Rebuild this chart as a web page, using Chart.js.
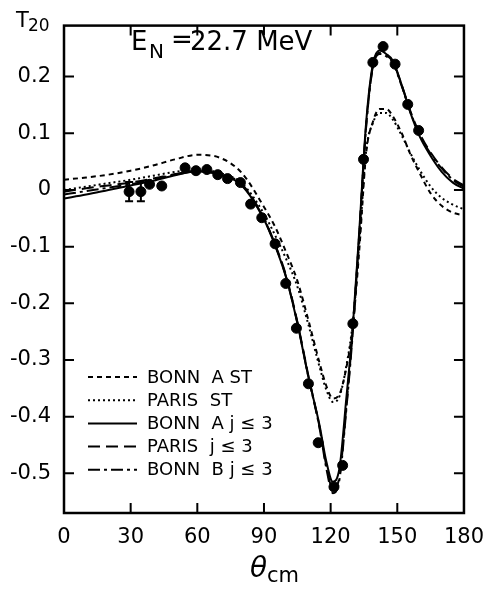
<!DOCTYPE html>
<html lang="en">
<head>
  <meta charset="UTF-8">
  <script src="https://cdn.jsdelivr.net/npm/chart.js"></script>
  <style>
    body { margin: 0; background: #fff; }
    canvas { display: block; }
  </style>
</head>
<body>
  <canvas id="t20Chart" width="496" height="590"></canvas>
  <script>
    // angle grid for the calculated curves (degrees, c.m.)
    const theta = [0, 10, 20, 30, 40, 50, 60, 70, 80, 90, 95, 100, 105, 110, 115, 118, 121, 124, 127, 130, 133, 136, 139, 142, 145, 148, 152, 156, 160, 165, 170, 175, 180];

    const bonnAST = [0.018, 0.022, 0.027, 0.034, 0.043, 0.054, 0.062, 0.057, 0.030, -0.030, -0.065, -0.110, -0.160, -0.230, -0.305, -0.345, -0.368, -0.360, -0.315, -0.240, -0.100, 0.065, 0.120, 0.143, 0.143, 0.130, 0.100, 0.062, 0.030, -0.006, -0.028, -0.040, -0.045];
    const parisST = [0.000, 0.006, 0.012, 0.018, 0.025, 0.032, 0.036, 0.030, 0.012, -0.042, -0.080, -0.122, -0.170, -0.238, -0.312, -0.352, -0.374, -0.364, -0.312, -0.232, -0.088, 0.070, 0.118, 0.136, 0.136, 0.124, 0.096, 0.064, 0.036, 0.006, -0.014, -0.026, -0.034];
    const bonnAj3 = [-0.015, -0.008, 0.000, 0.008, 0.016, 0.026, 0.033, 0.027, 0.008, -0.052, -0.098, -0.155, -0.235, -0.330, -0.415, -0.478, -0.515, -0.490, -0.370, -0.240, -0.065, 0.120, 0.222, 0.246, 0.240, 0.228, 0.185, 0.135, 0.095, 0.060, 0.032, 0.013, 0.002];
    const parisj3 = [-0.003, 0.003, 0.008, 0.013, 0.020, 0.028, 0.034, 0.028, 0.010, -0.050, -0.096, -0.152, -0.232, -0.328, -0.418, -0.485, -0.528, -0.505, -0.385, -0.245, -0.070, 0.115, 0.218, 0.242, 0.238, 0.226, 0.185, 0.138, 0.100, 0.066, 0.040, 0.020, 0.008];
    const bonnBj3 = [-0.008, -0.002, 0.004, 0.010, 0.018, 0.027, 0.033, 0.027, 0.009, -0.051, -0.097, -0.154, -0.234, -0.330, -0.420, -0.490, -0.535, -0.510, -0.390, -0.250, -0.072, 0.112, 0.216, 0.240, 0.236, 0.224, 0.183, 0.136, 0.098, 0.064, 0.038, 0.018, 0.005];

    // measured points
    const expTheta = [29.3, 34.6, 38.5, 44, 54.5, 59.4, 64.3, 69.2, 73.6, 79.4, 84, 89, 95, 99.8, 104.6, 110, 114.4, 121.5, 125.4, 130, 134.8, 139, 143.6, 149, 154.7, 159.6];
    const expT = [-0.003, -0.003, 0.010, 0.007, 0.039, 0.034, 0.036, 0.027, 0.020, 0.013, -0.025, -0.049, -0.095, -0.165, -0.244, -0.342, -0.446, -0.524, -0.486, -0.236, 0.054, 0.225, 0.253, 0.222, 0.151, 0.105];
    const expErr = [0.017, 0.017, 0, 0, 0, 0, 0, 0, 0, 0, 0, 0, 0, 0, 0, 0, 0, 0, 0, 0, 0, 0, 0, 0, 0, 0];

    const xTicks = [0, 30, 60, 90, 120, 150, 180];
    const yTicks = [0.2, 0.1, 0, -0.1, -0.2, -0.3, -0.4, -0.5];

    const legendLabels = ['BONN  A ST', 'PARIS  ST', 'BONN  A j \u2264 3', 'PARIS  j \u2264 3', 'BONN  B j \u2264 3'];

    const pts = arr => theta.map((t, i) => ({ x: t, y: arr[i] }));

    function curve(label, arr, dash) {
      return {
        type: 'line', label: label, data: pts(arr),
        borderColor: '#000', borderWidth: 2, borderDash: dash,
        pointRadius: 0, fill: false, cubicInterpolationMode: 'monotone'
      };
    }

    const curves = [
      curve(legendLabels[0], bonnAST, [5, 4]),
      curve(legendLabels[1], parisST, [2, 3]),
      curve(legendLabels[2], bonnAj3, []),
      curve(legendLabels[3], parisj3, [12, 6]),
      curve(legendLabels[4], bonnBj3, [12, 4, 3, 4])
    ];

    // frame, inward ticks, error bars, texts and the inset legend
    const decorations = {
      id: 'decorations',
      afterDatasetsDraw(chart) {
        const ctx = chart.ctx;
        const a = chart.chartArea;
        const xs = chart.scales.x, ys = chart.scales.y;
        ctx.save();
        ctx.strokeStyle = '#000';
        ctx.fillStyle = '#000';

        // error bars
        ctx.lineWidth = 2;
        expTheta.forEach((t, i) => {
          if (!expErr[i]) return;
          const px = xs.getPixelForValue(t);
          const y1 = ys.getPixelForValue(expT[i] - expErr[i]);
          const y2 = ys.getPixelForValue(expT[i] + expErr[i]);
          ctx.beginPath();
          ctx.moveTo(px, y1); ctx.lineTo(px, y2);
          ctx.moveTo(px - 4, y1); ctx.lineTo(px + 4, y1);
          ctx.moveTo(px - 4, y2); ctx.lineTo(px + 4, y2);
          ctx.stroke();
        });

        // frame
        ctx.lineWidth = 2.5;
        ctx.strokeRect(a.left, a.top, a.right - a.left, a.bottom - a.top);

        // inward ticks
        ctx.lineWidth = 2;
        ctx.beginPath();
        xTicks.slice(1, -1).forEach(v => {
          const px = xs.getPixelForValue(v);
          ctx.moveTo(px, a.bottom); ctx.lineTo(px, a.bottom - 10);
          ctx.moveTo(px, a.top); ctx.lineTo(px, a.top + 10);
        });
        yTicks.forEach(v => {
          const py = ys.getPixelForValue(v);
          ctx.moveTo(a.left, py); ctx.lineTo(a.left + 10, py);
          ctx.moveTo(a.right, py); ctx.lineTo(a.right - 10, py);
        });
        ctx.stroke();

        // axis titles and energy label
        ctx.textBaseline = 'alphabetic';
        ctx.textAlign = 'left';
        ctx.font = '21px "DejaVu Sans"';
        ctx.fillText('T', 16, 27);
        ctx.font = '17px "DejaVu Sans"';
        ctx.fillText('20', 28, 31);

        ctx.font = '26px "DejaVu Sans"';
        ctx.fillText('E', 131, 50);
        ctx.font = '20px "DejaVu Sans"';
        ctx.fillText('N', 149, 58);
        ctx.font = '26px "DejaVu Sans"';
        ctx.fillText('=', 171, 48);
        ctx.fillText('22.7 MeV', 190, 50);

        ctx.font = 'italic 28px "DejaVu Sans"';
        ctx.fillText('\u03b8', 250, 577);
        ctx.font = '21px "DejaVu Sans"';
        ctx.fillText('cm', 267, 582);

        // legend inside the plot
        ctx.font = '18px "DejaVu Sans"';
        ctx.textBaseline = 'middle';
        curves.forEach((ds, i) => {
          const ly = 377 + i * 23.2;
          ctx.lineWidth = 2;
          ctx.setLineDash(ds.borderDash);
          ctx.beginPath();
          ctx.moveTo(88, ly); ctx.lineTo(137, ly);
          ctx.stroke();
          ctx.setLineDash([]);
          ctx.fillText(ds.label, 147, ly + 1);
        });
        ctx.restore();
      }
    };

    new Chart(document.getElementById('t20Chart'), {
      type: 'scatter',
      data: {
        datasets: [
          ...curves,
          {
            type: 'scatter', label: 'data',
            data: expTheta.map((t, i) => ({ x: t, y: expT[i] })),
            backgroundColor: '#000', borderColor: '#000',
            pointRadius: 5, pointHoverRadius: 5
          }
        ]
      },
      options: {
        responsive: false,
        animation: false,
        devicePixelRatio: 1,
        layout: { padding: { top: 5, right: 27, left: 0, bottom: 0 } },
        plugins: { legend: { display: false }, tooltip: { enabled: false } },
        scales: {
          x: {
            type: 'linear', min: 0, max: 180,
            afterBuildTicks: s => { s.ticks = xTicks.map(v => ({ value: v })); },
            afterFit: s => { s.height = 77; },
            grid: { display: false, drawTicks: false },
            border: { display: false },
            ticks: { color: '#000', padding: 12, font: { family: 'DejaVu Sans', size: 21 } }
          },
          y: {
            type: 'linear', min: -0.57, max: 0.29,
            afterBuildTicks: s => { s.ticks = yTicks.map(v => ({ value: v })); },
            afterFit: s => { s.width = 64; },
            grid: { display: false, drawTicks: false },
            border: { display: false },
            ticks: {
              color: '#000', padding: 13, font: { family: 'DejaVu Sans', size: 21 },
              callback: v => (Math.abs(v) < 1e-9 ? '0' : v.toFixed(1))
            }
          }
        }
      },
      plugins: [decorations]
    });
  </script>
</body>
</html>
